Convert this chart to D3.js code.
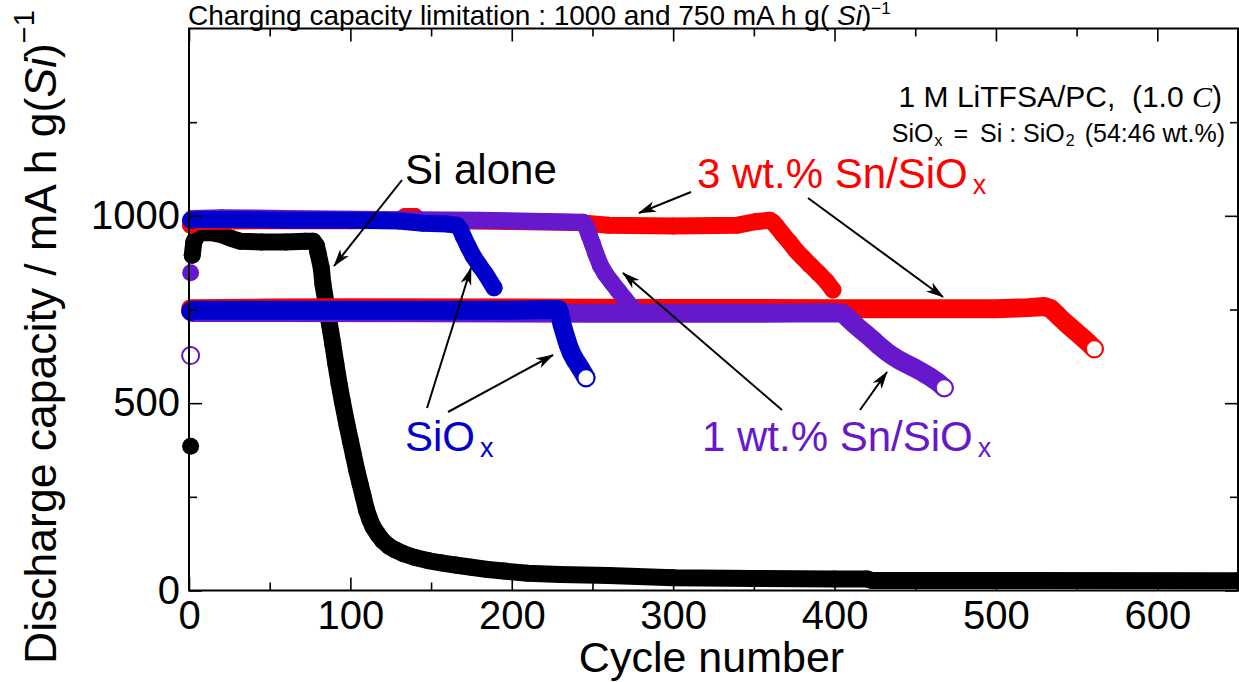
<!DOCTYPE html>
<html>
<head>
<meta charset="utf-8">
<script src="https://cdn.jsdelivr.net/npm/d3@7"></script>
<style>
  html, body { margin: 0; padding: 0; background: #fff; }
  svg { display: block; font-family: "Liberation Sans", Arial, sans-serif; }
</style>
</head>
<body>
<svg id="chart" width="1239" height="682"></svg>
<script>
// ---- axis ticks ----
const cycleTicks = [0, 100, 200, 300, 400, 500, 600];
const cycleMinorTicks = [50, 150, 250, 350, 450, 550];
const capacityTicks = [0, 500, 1000];
const capacityMinorTicks = [250, 750, 1250];

// ---- discharge capacity vs cycle, [cycle, mA h g(Si)^-1] ----
// Si alone, 1000 mA h g^-1 limit (filled)
const siAlone1000 = [
  [1, 385], [2, 895], [3, 930], [5, 948], [8, 955], [14, 955], [20, 950], [26, 940],
  [32, 932], [45, 930], [60, 930], [72, 932], [77, 932], [79, 920], [80, 900],
  [82, 860], [83, 818], [85, 765], [87, 712], [89, 660], [91, 605], [93, 552],
  [95, 505], [98, 440], [100, 400], [102, 360], [104, 320], [106, 285], [108, 250],
  [110, 215], [112, 190], [114, 170], [117, 150], [120, 133], [124, 118], [128, 108],
  [133, 98], [140, 88], [148, 80], [156, 74], [165, 68], [175, 62], [185, 56],
  [195, 52], [210, 46], [230, 43], [260, 40], [300, 34], [350, 32], [400, 31],
  [420, 31], [423, 27], [500, 27], [650, 26]
];
// SiOx, 1000 limit (filled)
const sio1000 = [
  [1, 988], [5, 990], [30, 990], [60, 988], [100, 988], [130, 986], [145, 980],
  [160, 978], [166, 975], [168, 965], [170, 945], [173, 918], [176, 893],
  [180, 867], [184, 843], [189, 808]
];
// SiOx, 750 limit (open)
const sio750 = [
  [1, 745], [2, 748], [50, 748], [120, 748], [200, 748], [226, 750], [229, 750],
  [230, 735], [231, 712], [233, 683], [235, 655], [237, 633], [239, 617],
  [241, 604], [243, 590], [246, 568]
];
// 1 wt.% Sn/SiOx, 1000 limit (filled)
const sn1_1000 = [
  [1, 848], [2, 993], [20, 995], [60, 993], [120, 990], [180, 988], [220, 985],
  [244, 983], [246, 972], [248, 948], [250, 925], [252, 900], [255, 867],
  [258, 845], [262, 822], [266, 800], [270, 778], [274, 757], [276, 750]
];
// 1 wt.% Sn/SiOx, 750 limit (open)
const sn1_750 = [
  [1, 627], [2, 742], [50, 742], [150, 741], [250, 740], [350, 740], [400, 741],
  [405, 740], [408, 728], [412, 712], [416, 697], [420, 683], [424, 668],
  [428, 652], [432, 638], [436, 626], [440, 615], [445, 604], [450, 593],
  [455, 581], [460, 568], [464, 556], [468, 541]
];
// 3 wt.% Sn/SiOx, 1000 limit (filled)
const sn3_1000 = [
  [1, 975], [5, 985], [50, 987], [100, 987], [130, 988], [134, 998], [140, 998],
  [142, 988], [200, 985], [240, 982], [260, 975], [300, 973], [340, 975],
  [352, 985], [360, 988], [362, 982], [364, 972], [368, 950], [372, 930],
  [376, 908], [380, 890], [385, 868], [390, 847], [395, 825], [399, 802]
];
// 3 wt.% Sn/SiOx, 750 limit (open)
const sn3_750 = [
  [1, 752], [50, 754], [100, 755], [200, 754], [300, 753], [400, 752], [500, 752],
  [520, 755], [530, 758], [534, 752], [537, 740], [540, 727], [543, 715],
  [547, 700], [551, 685], [555, 670], [558, 658], [561, 645]
];

const RED = "#ff0000", BLUE = "#0000cd", PURPLE = "#6619cc", BLACK = "#000000";

// drawing order: later series sit on top
const series = [
  { data: siAlone1000, color: BLACK, open: false },
  { data: sn3_1000, color: RED, open: false },
  { data: sn3_750, color: RED, open: true },
  { data: sn1_1000, color: PURPLE, open: false },
  { data: sn1_750, color: PURPLE, open: true },
  { data: sio1000, color: BLUE, open: false },
  { data: sio750, color: BLUE, open: true }
];

const svg = d3.select("#chart");
const L = 189, R = 1238, T = 28.5, B = 590.5;

const x = d3.scaleLinear().domain([0, 650]).range([L, R]);
const y = d3.scaleLinear().domain([0, 1500]).range([B, T]);

const MR = 8.5;      // marker radius
const RING = 2;      // open-marker outline width

const defs = svg.append("defs");
defs.append("clipPath").attr("id", "clip")
  .append("rect").attr("x", L - 12).attr("y", T).attr("width", R - L + 12).attr("height", B - T);
const plot = svg.append("g").attr("clip-path", "url(#clip)");

const line = d3.line().x(d => x(d[0])).y(d => y(d[1]));

// split a series where consecutive cycles are too far apart vertically for markers to touch
function runs(data) {
  const out = [];
  let cur = [data[0]];
  for (let i = 1; i < data.length; i++) {
    const a = data[i - 1], b = data[i];
    const step = Math.abs(y(b[1]) - y(a[1])) / (b[0] - a[0]);
    if (step > 2 * MR) { out.push(cur); cur = [b]; } else cur.push(b);
  }
  out.push(cur);
  return out;
}

series.forEach(s => {
  const g = plot.append("g");
  const parts = runs(s.data);
  const w = s.open ? 2 * MR + RING : 2 * MR;
  parts.forEach(p => {
    if (p.length > 1) {
      g.append("path").attr("d", line(p))
        .attr("fill", "none").attr("stroke", s.color)
        .attr("stroke-width", w).attr("stroke-linecap", "round").attr("stroke-linejoin", "round");
    }
  });
  if (!s.open) {
    g.selectAll("circle").data(s.data).join("circle")
      .attr("cx", d => x(d[0])).attr("cy", d => y(d[1])).attr("r", MR)
      .attr("fill", s.color);
  } else {
    const ends = parts.filter(p => p.length === 1).map(p => p[0]);
    ends.push(s.data[s.data.length - 1]);
    g.selectAll("circle").data(ends).join("circle")
      .attr("cx", d => x(d[0])).attr("cy", d => y(d[1])).attr("r", MR)
      .attr("fill", "#fff").attr("stroke", s.color).attr("stroke-width", RING);
  }
});

// ---- axes: ticks point inward on all four sides ----
function styleAxis(g) {
  g.select(".domain").remove();
  g.selectAll(".tick line").attr("stroke", "#000").attr("stroke-width", 1.6);
  g.selectAll(".tick text").attr("fill", "#000")
    .attr("font-size", 40).attr("font-family", "Liberation Sans, Arial, sans-serif");
}
const MAJ = 13, MIN = 8;
const fmt = d3.format("d");
svg.append("g").attr("transform", `translate(0,${B})`)
  .call(d3.axisBottom(x).tickValues(cycleTicks).tickSize(-MAJ).tickPadding(10).tickFormat(fmt))
  .call(styleAxis);
svg.append("g").attr("transform", `translate(0,${B})`)
  .call(d3.axisBottom(x).tickValues(cycleMinorTicks).tickSize(-MIN).tickFormat(""))
  .call(styleAxis);
svg.append("g").attr("transform", `translate(0,${T})`)
  .call(d3.axisTop(x).tickValues(cycleTicks).tickSize(-MAJ).tickFormat(""))
  .call(styleAxis);
svg.append("g").attr("transform", `translate(0,${T})`)
  .call(d3.axisTop(x).tickValues(cycleMinorTicks).tickSize(-MIN).tickFormat(""))
  .call(styleAxis);
svg.append("g").attr("transform", `translate(${L},0)`)
  .call(d3.axisLeft(y).tickValues(capacityTicks).tickSize(-MAJ).tickPadding(9).tickFormat(fmt))
  .call(styleAxis);
svg.append("g").attr("transform", `translate(${L},0)`)
  .call(d3.axisLeft(y).tickValues(capacityMinorTicks).tickSize(-MIN).tickFormat(""))
  .call(styleAxis);
svg.append("g").attr("transform", `translate(${R},0)`)
  .call(d3.axisRight(y).tickValues(capacityTicks).tickSize(-MAJ).tickFormat(""))
  .call(styleAxis);
svg.append("g").attr("transform", `translate(${R},0)`)
  .call(d3.axisRight(y).tickValues(capacityMinorTicks).tickSize(-MIN).tickFormat(""))
  .call(styleAxis);

svg.append("rect").attr("x", L).attr("y", T).attr("width", R - L).attr("height", B - T)
  .attr("fill", "none").attr("stroke", "#000").attr("stroke-width", 2);

// ---- axis titles ----
svg.append("text").attr("x", (L + R) / 2 - 2).attr("y", 672).attr("text-anchor", "middle")
  .attr("font-size", 43).text("Cycle number");

const yt = svg.append("text").attr("transform", "translate(56,337) rotate(-90)")
  .attr("text-anchor", "middle").attr("font-size", 44.5);
yt.append("tspan").text("Discharge capacity / mA h g(");
yt.append("tspan").attr("font-style", "italic").text("Si");
yt.append("tspan").text(")");
yt.append("tspan").attr("font-size", 29).attr("dy", "-0.75em").text("\u22121");

// ---- header notes ----
const hd = svg.append("text").attr("x", 188).attr("y", 25).attr("font-size", 28);
hd.append("tspan").text("Charging capacity limitation : 1000 and 750 mA h g( ");
hd.append("tspan").attr("font-style", "italic").text("Si");
hd.append("tspan").text(")");
hd.append("tspan").attr("font-size", 17).attr("dy", -11).text("\u22121");

const el = svg.append("text").attr("x", 1222).attr("y", 107).attr("text-anchor", "end").attr("font-size", 30);
el.append("tspan").text("1 M LiTFSA/PC,\u00a0\u00a0(1.0 ");
el.append("tspan").attr("font-family", "Liberation Serif, serif").attr("font-style", "italic").text("C");
el.append("tspan").text(")");

// composition line, laid out piece by piece so subscripts sit in their own boxes
function row(pieces, xEnd, yBase) {
  const g = svg.append("g");
  let cx = 0;
  pieces.forEach(p => {
    const t = g.append("text").attr("x", cx).attr("y", yBase + (p.dy || 0))
      .attr("font-size", p.size).text(p.t);
    cx += t.node().getComputedTextLength() + (p.gap || 0);
  });
  g.attr("transform", `translate(${xEnd - cx},0)`);
}
row([
  { t: "SiO", size: 25, gap: 1 },
  { t: "x", size: 16, dy: 4, gap: 11 },
  { t: "=", size: 25, gap: 12 },
  { t: "Si : SiO", size: 25, gap: 1 },
  { t: "2", size: 16, dy: 4, gap: 10 },
  { t: "(54:46 wt.%)", size: 25 }
], 1225, 142);

// ---- series labels ----
function label(xp, yp, main, color, sub) {
  const t = svg.append("text").attr("x", xp).attr("y", yp).attr("font-size", 42).attr("fill", color);
  t.append("tspan").text(main);
  if (sub) t.append("tspan").attr("font-size", 27).attr("dx", 5).attr("dy", 6).text(sub);
}
label(405, 184, "Si alone", BLACK);
label(697, 188, "3 wt.% Sn/SiO", RED, "x");
label(405, 451, "SiO", BLUE, "x");
label(702, 451, "1 wt.% Sn/SiO", PURPLE, "x");

// ---- arrows ----
defs.append("marker").attr("id", "head").attr("viewBox", "0 -6 18 12")
  .attr("refX", 17).attr("refY", 0).attr("markerWidth", 18).attr("markerHeight", 12)
  .attr("markerUnits", "userSpaceOnUse").attr("orient", "auto")
  .append("path").attr("d", "M0,-5.5 L18,0 L0,5.5 L5,0 Z").attr("fill", "#000");

const arrows = [
  [402, 180, 334, 266],
  [691, 192, 639, 213],
  [808, 198, 943, 297],
  [427, 408, 471, 268],
  [448, 412, 553, 355],
  [782, 410, 623, 273],
  [860, 410, 887, 372]
];
svg.append("g").selectAll("line").data(arrows).join("line")
  .attr("x1", d => d[0]).attr("y1", d => d[1]).attr("x2", d => d[2]).attr("y2", d => d[3])
  .attr("stroke", "#000").attr("stroke-width", 2).attr("marker-end", "url(#head)");
</script>
</body>
</html>
